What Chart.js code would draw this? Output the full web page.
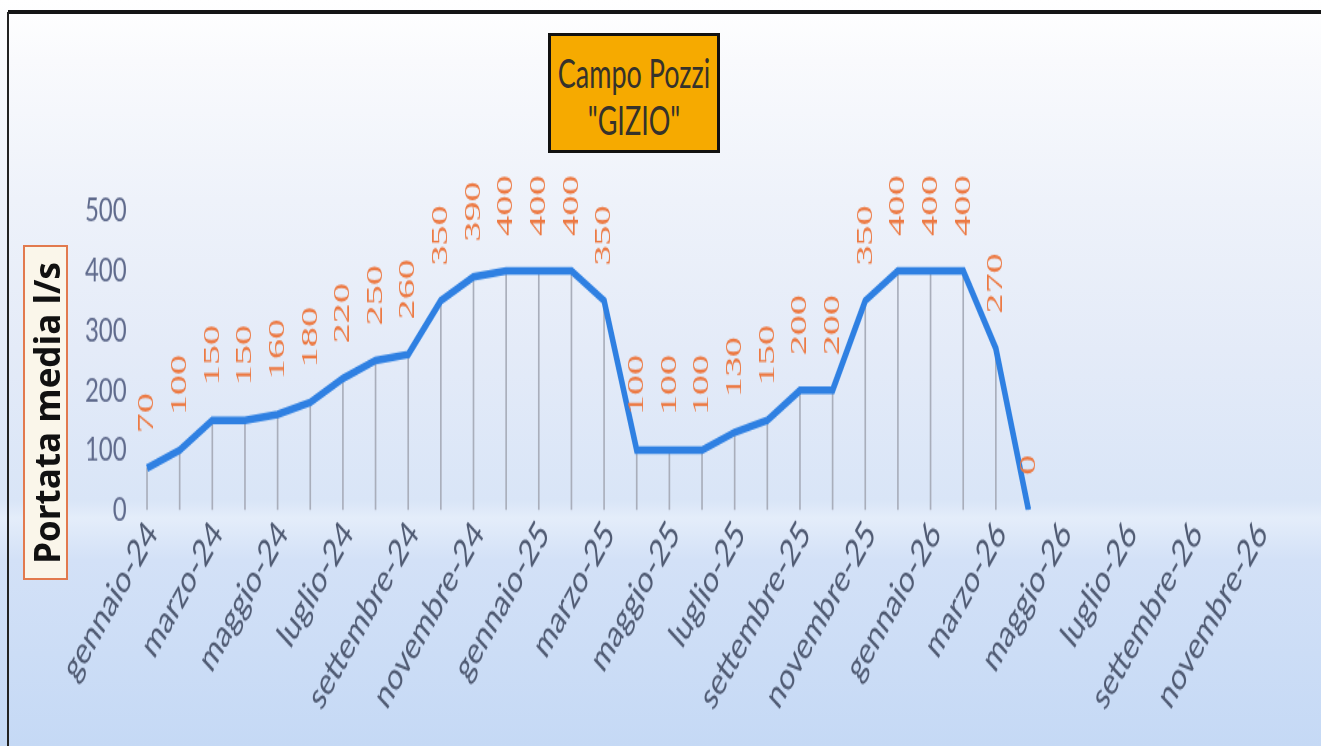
<!DOCTYPE html>
<html>
<head>
<meta charset="utf-8">
<script src="https://cdn.jsdelivr.net/npm/chart.js@4.4.1/dist/chart.umd.min.js"></script>
<style>
  html, body { margin: 0; padding: 0; }
  body {
    width: 1321px; height: 746px; overflow: hidden; position: relative;
    background: linear-gradient(to bottom, #ffffff 0px, #f9fafd 60px, #eef2fa 200px, #e4ebf8 350px, #d9e5f7 500px, #e4edfa 518px, #d3e1f7 560px, #c5d9f5 746px);
    font-family: Lato, sans-serif;
  }
  #stretch {
    position: absolute; left: 0; top: 0;
    width: 1321px; height: 533px;
    transform: scale(1, 1.4); transform-origin: 0 0;
  }
  #topline { position: absolute; left: 8px; top: 10px; width: 1313px; height: 4px; background: #151515; }
  #leftline { position: absolute; left: 7px; top: 12px; width: 2px; height: 734px; background: #222; }
  #title {
    position: absolute; left: 548px; top: 33px; width: 166px; height: 114px;
    border: 3px solid #111; background: #f6aa00;
  }
  #title div {
    position: absolute; left: 0; width: 100%; text-align: center;
    font-family: Lato, sans-serif; font-size: 27px; color: #35322b;
    transform: scaleY(1.5);
  }
  #ytitle {
    position: absolute; left: 23px; top: 245px; width: 41px; height: 331px;
    border: 2px solid #e27a4e; background: #faf6ea;
  }
  #ytitle div {
    position: absolute; left: 50%; top: 50%; width: 331px; height: 41px; line-height: 41px;
    transform: translate(-50%, -50%) rotate(-90deg);
    text-align: center; white-space: nowrap;
    font-family: "Open Sans", sans-serif; font-weight: bold; font-size: 35px; color: #111;
  }
</style>
</head>
<body>
<div id="topline"></div>
<div id="leftline"></div>
<div id="stretch"><canvas id="myChart" width="1321" height="533"></canvas></div>
<div id="title"><div style="top:20px">Campo Pozzi</div><div style="top:67px">"GIZIO"</div></div>
<div id="ytitle"><div>Portata media l/s</div></div>
<script>
// months shown on the x axis (one per month, every other one labelled)
const months = [
  'gennaio-24','febbraio-24','marzo-24','aprile-24','maggio-24','giugno-24',
  'luglio-24','agosto-24','settembre-24','ottobre-24','novembre-24','dicembre-24',
  'gennaio-25','febbraio-25','marzo-25','aprile-25','maggio-25','giugno-25',
  'luglio-25','agosto-25','settembre-25','ottobre-25','novembre-25','dicembre-25',
  'gennaio-26','febbraio-26','marzo-26','aprile-26','maggio-26','giugno-26',
  'luglio-26','agosto-26','settembre-26','ottobre-26','novembre-26','dicembre-26'
];
// portata media l/s
const portata = [
  70, 100, 150, 150, 160, 180, 220, 250, 260, 350, 390, 400,
  400, 400, 350, 100, 100, 100, 130, 150, 200, 200, 350, 400,
  400, 400, 270, 0, null, null, null, null, null, null, null, null
];
const yTicks = [0, 100, 200, 300, 400, 500];

// orange value labels, rotated, above each point
const valueLabels = {
  id: 'valueLabels',
  afterDatasetsDraw(chart) {
    const meta = chart.getDatasetMeta(0);
    const ctx = chart.ctx;
    ctx.save();
    ctx.fillStyle = '#ec7a44';
    ctx.font = '24px "Liberation Serif", serif';
    ctx.textAlign = 'left';
    ctx.textBaseline = 'middle';
    meta.data.forEach(function(pt, i) {
      const v = portata[i];
      if (v === null) return;
      ctx.save();
      ctx.translate(pt.x, pt.y - 25);
      ctx.rotate(-Math.PI / 2);
      ctx.scale(1.2, 1);
      ctx.fillText(String(v), 0, 0);
      ctx.restore();
    });
    ctx.restore();
  }
};

var ctx = document.getElementById('myChart').getContext('2d');
var chart = new Chart(ctx, {
  type: 'bar',
  data: {
    labels: months,
    datasets: [{
      type: 'line',
      label: 'Portata',
      data: portata,
      borderColor: '#2f80e2',
      borderWidth: 5.5,
      pointRadius: 0,
      tension: 0,
      spanGaps: false,
      order: 0
    },
    {
      type: 'bar',
      label: 'linee',
      data: portata,
      backgroundColor: '#a9aebb',
      barThickness: 1,
      order: 1
    }]
  },
  options: {
    responsive: false,
    animation: false,
    layout: { padding: { top: 150.7, right: 15, left: 0, bottom: 0 } },
    plugins: { legend: { display: false }, tooltip: { enabled: false } },
    scales: {
      x: {
        offset: true,
        grid: { display: false, drawTicks: false },
        border: { display: false },
        afterFit: function(scale) { scale.height = 533 - 364.3; },
        ticks: {
          autoSkip: false,
          maxRotation: 52,
          minRotation: 52,
          padding: 2,
          labelOffset: 5,
          color: '#4f5a72',
          font: { family: 'Lato', size: 27 },
          callback: function(val, i) { return i % 2 === 0 ? months[i] : ''; }
        }
      },
      y: {
        min: 0,
        max: 500,
        grid: { display: false, drawTicks: false },
        border: { display: false },
        afterFit: function(scale) { scale.width = 130.7; },
        afterBuildTicks: function(scale) { scale.ticks = yTicks.map(v => ({ value: v })); },
        ticks: {
          padding: 4,
          color: '#5f6a8c',
          font: { family: 'Lato', size: 24 }
        }
      }
    }
  },
  plugins: [valueLabels]
});
</script>
</body>
</html>
